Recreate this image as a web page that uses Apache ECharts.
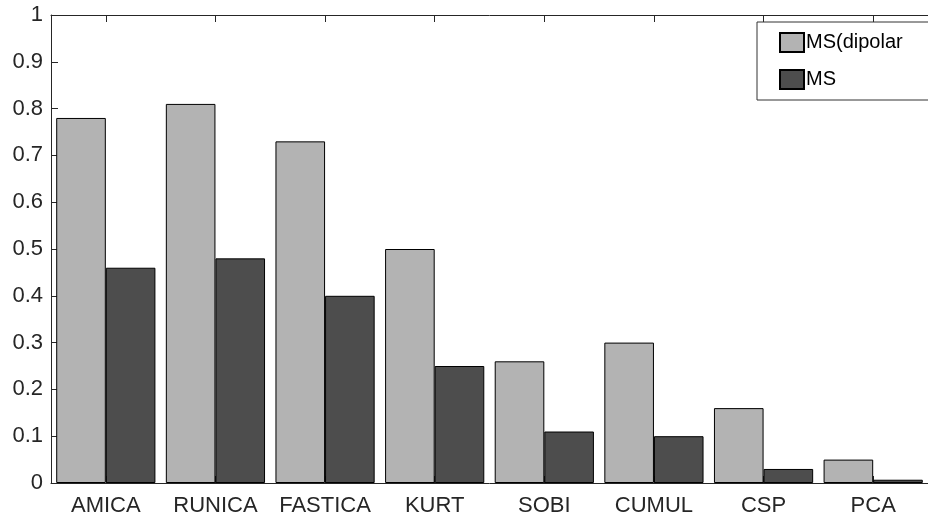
<!DOCTYPE html>
<html>
<head>
<meta charset="utf-8">
<script src="https://cdn.jsdelivr.net/npm/echarts@6/dist/echarts.min.js"></script>
<style>
    html, body { margin: 0; padding: 0; background: #fff; }
    #chart { width: 928px; height: 517px; }
</style>
</head>
<body>
<div id="chart"></div>
<script>
const categories = ['AMICA', 'RUNICA', 'FASTICA', 'KURT', 'SOBI', 'CUMUL', 'CSP', 'PCA'];
const msDipolar = [0.78, 0.81, 0.73, 0.50, 0.26, 0.30, 0.16, 0.05];
const ms = [0.46, 0.48, 0.40, 0.25, 0.11, 0.10, 0.03, 0.007];

const AXIS = '#262626';
const FONT = 'Liberation Sans, Arial, sans-serif';

const chart = echarts.init(document.getElementById('chart'), null, { renderer: 'canvas' });

chart.setOption({
    animation: false,
    textStyle: { fontFamily: FONT },
    grid: { left: 51, right: -8, top: 15, bottom: 34 },
    legend: {
        orient: 'vertical',
        left: 757,
        top: 22,
        padding: [10, 200, 10, 22],
        itemGap: 16,
        itemWidth: 24,
        itemHeight: 19,
        icon: 'rect',
        borderColor: '#333',
        borderWidth: 1,
        backgroundColor: '#fff',
        textStyle: { fontSize: 20, color: '#000', fontFamily: FONT, padding: [0, 0, 0, -3] },
        data: ['MS(dipolar', 'MS'],
    },
    xAxis: [{
        type: 'category',
        data: categories,
        boundaryGap: true,
        axisLine: { lineStyle: { color: AXIS, width: 1 } },
        axisTick: { show: true, inside: true, alignWithLabel: true, length: 7, lineStyle: { color: AXIS } },
        axisLabel: { interval: 0, fontSize: 22, color: AXIS, margin: 12, fontFamily: FONT },
    }, {
        type: 'category',
        data: categories,
        position: 'top',
        boundaryGap: true,
        axisLine: { lineStyle: { color: AXIS, width: 1 } },
        axisTick: { show: true, inside: true, alignWithLabel: true, length: 7, lineStyle: { color: AXIS } },
        axisLabel: { show: false },
    }],
    yAxis: {
        type: 'value',
        min: 0,
        max: 1,
        interval: 0.1,
        axisLine: { show: true, lineStyle: { color: AXIS, width: 1 } },
        axisTick: { show: true, inside: true, length: 7, lineStyle: { color: AXIS } },
        axisLabel: {
            fontSize: 22, color: AXIS, margin: 8, fontFamily: FONT,
            formatter: (v) => String(Math.round(v * 10) / 10),
        },
        splitLine: { show: false },
    },
    series: [{
        name: 'MS(dipolar',
        type: 'bar',
        data: msDipolar,
        barGap: '0%',
        barCategoryGap: '9.5%',
        itemStyle: { color: '#b3b3b3', borderColor: '#000', borderWidth: 1 },
    }, {
        name: 'MS',
        type: 'bar',
        data: ms,
        itemStyle: { color: '#4d4d4d', borderColor: '#000', borderWidth: 1 },
    }],
});
</script>
</body>
</html>
